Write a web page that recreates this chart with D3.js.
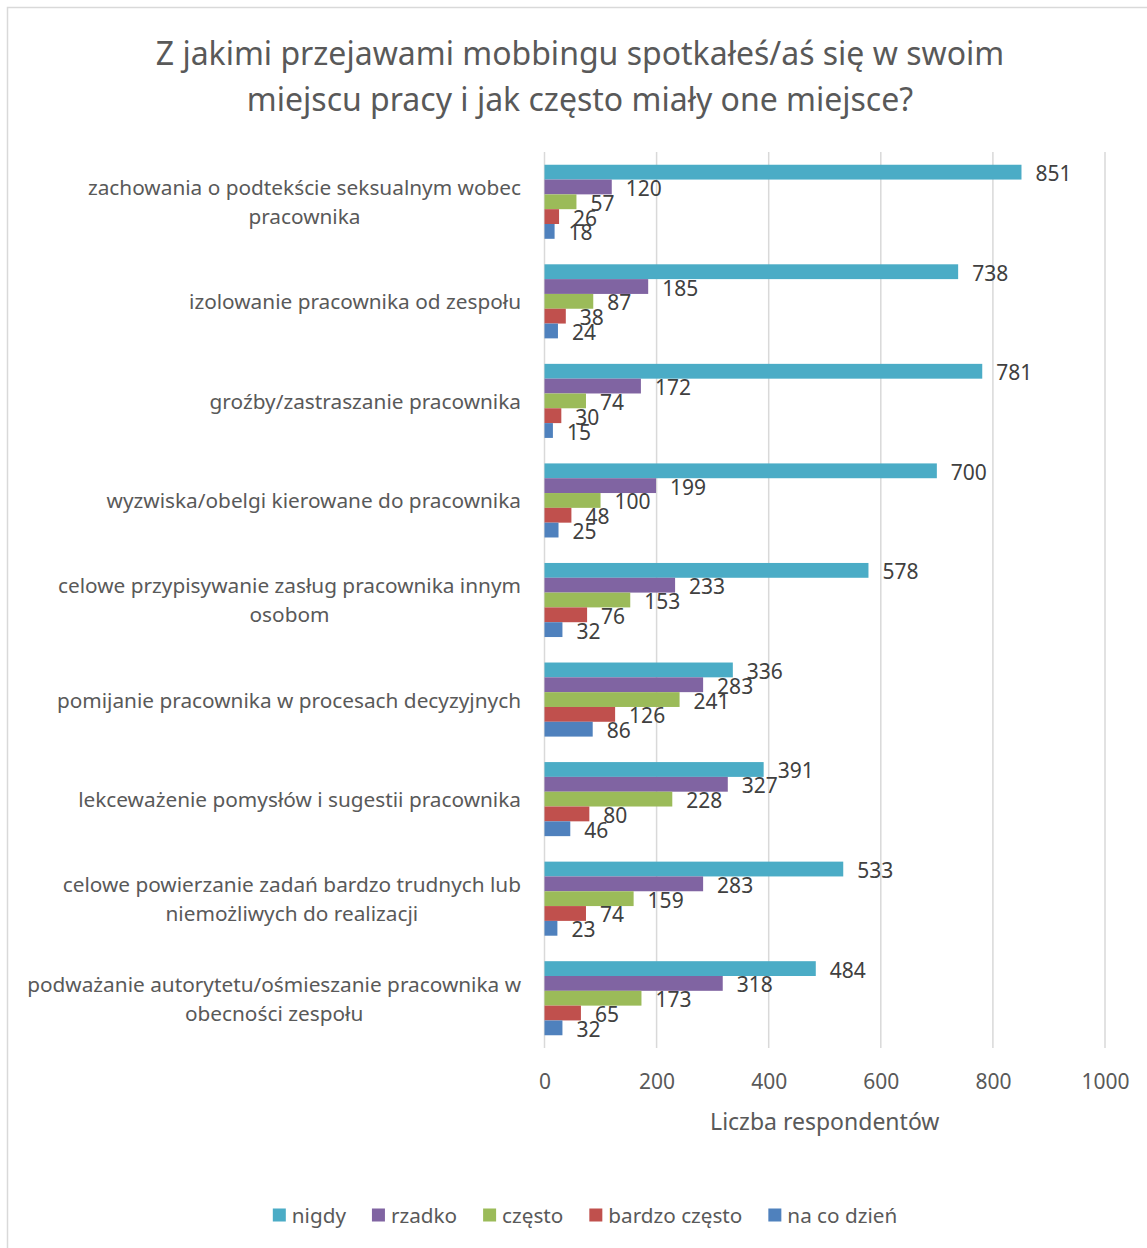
<!DOCTYPE html>
<html lang="pl">

<head>
  <meta charset="utf-8">
  <title>Mobbing</title>
  <script src="https://d3js.org/d3.v7.min.js" charset="utf-8"></script>
  <style type="text/css">
    body {
      margin: 0;
      background: #fff;
    }

    text {
      font-family: "Noto Sans", "Open Sans", sans-serif;
      fill: #595959;
    }
  </style>
</head>

<body>
  <script type="text/javascript">

    var categories = [
      "zachowania o podtekście seksualnym wobec\npracownika",
      "izolowanie pracownika od zespołu",
      "groźby/zastraszanie pracownika",
      "wyzwiska/obelgi kierowane do pracownika",
      "celowe przypisywanie zasług pracownika innym\nosobom",
      "pomijanie pracownika w procesach decyzyjnych",
      "lekceważenie pomysłów i sugestii pracownika",
      "celowe powierzanie zadań bardzo trudnych lub\nniemożliwych do realizacji",
      "podważanie autorytetu/ośmieszanie pracownika w\nobecności zespołu"
    ];
    var series = ["nigdy", "rzadko", "często", "bardzo często", "na co dzień"];
    var colors = ["#4BACC6", "#8064A2", "#9BBB59", "#C0504D", "#4F81BD"];

    // one value per category, in category order
    var nigdy = [851, 738, 781, 700, 578, 336, 391, 533, 484];
    var rzadko = [120, 185, 172, 199, 233, 283, 327, 283, 318];
    var czesto = [57, 87, 74, 100, 153, 241, 228, 159, 173];
    var bardzoCzesto = [26, 38, 30, 48, 76, 126, 80, 74, 65];
    var naCoDzien = [18, 24, 15, 25, 32, 86, 46, 23, 32];
    var xTicks = [0, 200, 400, 600, 800, 1000];

    var values = [nigdy, rzadko, czesto, bardzoCzesto, naCoDzien];

    var W = 1147, H = 1248;
    var svg = d3.select("body").append("svg")
      .attr("width", W)
      .attr("height", H);

    // chart border (cut off at right/bottom like the picture)
    svg.append("rect")
      .attr("x", 7.5).attr("y", 7.5)
      .attr("width", W + 20).attr("height", H + 20)
      .attr("fill", "none")
      .attr("stroke", "#d9d9d9")
      .attr("stroke-width", 1.5);

    // title
    svg.append("text")
      .attr("x", 580).attr("y", 52)
      .attr("text-anchor", "middle")
      .attr("dominant-baseline", "central")
      .attr("font-size", "32px")
      .text("Z jakimi przejawami mobbingu spotkałeś/aś się w swoim");
    svg.append("text")
      .attr("x", 580).attr("y", 98)
      .attr("text-anchor", "middle")
      .attr("dominant-baseline", "central")
      .attr("font-size", "32px")
      .text("miejscu pracy i jak często miały one miejsce?");

    var x = d3.scaleLinear().domain([0, 1000]).range([544.5, 1105]);
    var y0 = d3.scaleBand().domain(d3.range(categories.length)).range([152, 1048]);
    var step = y0.bandwidth();
    var y1 = d3.scaleBand().domain(series).range([step * 0.128, step * 0.872]);

    // gridlines
    svg.append("g")
      .selectAll("line")
      .data(xTicks)
      .enter()
      .append("line")
      .attr("x1", function (d) { return x(d); })
      .attr("x2", function (d) { return x(d); })
      .attr("y1", 152)
      .attr("y2", 1048)
      .attr("stroke", "#d9d9d9")
      .attr("stroke-width", 1.5);

    // tick labels via axis
    var xAxis = svg.append("g")
      .attr("transform", "translate(0,1048)")
      .call(d3.axisBottom(x).tickValues(xTicks).tickFormat(d3.format("d")).tickSize(0).tickPadding(0));
    xAxis.select(".domain").remove();
    xAxis.selectAll("text")
      .attr("y", 33)
      .attr("dy", null)
      .attr("dominant-baseline", "central")
      .attr("fill", "#595959")
      .attr("font-family", null)
      .attr("font-size", "21px");

    svg.append("text")
      .attr("x", (x(0) + x(1000)) / 2)
      .attr("y", 1121)
      .attr("text-anchor", "middle")
      .attr("dominant-baseline", "central")
      .attr("font-size", "23px")
      .text("Liczba respondentów");

    // bars
    var groups = svg.append("g")
      .selectAll("g")
      .data(categories)
      .enter()
      .append("g")
      .attr("transform", function (d, i) { return "translate(0," + y0(i) + ")"; });

    groups.each(function (cat, ci) {
      var g = d3.select(this);
      var rows = series.map(function (s, si) { return { s: s, si: si, v: values[si][ci] }; });

      g.selectAll("rect")
        .data(rows)
        .enter()
        .append("rect")
        .attr("x", x(0))
        .attr("y", function (d) { return y1(d.s); })
        .attr("width", function (d) { return x(d.v) - x(0); })
        .attr("height", y1.bandwidth())
        .attr("fill", function (d) { return colors[d.si]; });

      g.selectAll("text.val")
        .data(rows)
        .enter()
        .append("text")
        .attr("class", "val")
        .attr("x", function (d) { return x(d.v) + 14; })
        .attr("y", function (d) { return y1(d.s) + y1.bandwidth() / 2 + 1; })
        .attr("dominant-baseline", "central")
        .attr("font-size", "21px")
        .style("fill", "#404040")
        .text(function (d) { return d.v; });

      // category label
      var lines = cat.split("\n");
      var lh = 29;
      var cy = step / 2 - (lines.length - 1) * lh / 2;
      lines.forEach(function (ln, li) {
        g.append("text")
          .attr("x", 521)
          .attr("y", cy + li * lh)
          .attr("text-anchor", lines.length > 1 && li > 0 ? "middle" : "end")
          .attr("dominant-baseline", "central")
          .attr("font-size", "20.8px")
          .attr("class", "cat")
          .text(ln);
      });
    });

    // center wrapped second lines under their first line
    groups.each(function () {
      var t = d3.select(this).selectAll("text.cat").nodes();
      if (t.length > 1) {
        var w0 = t[0].getComputedTextLength();
        d3.select(t[1]).attr("x", 521 - w0 / 2);
      }
    });

    // legend
    var legend = svg.append("g");
    var lx = 0;
    series.forEach(function (s, i) {
      var item = legend.append("g").attr("transform", "translate(" + lx + ",0)");
      item.append("rect")
        .attr("x", 0).attr("y", -6.5)
        .attr("width", 13).attr("height", 13)
        .attr("fill", colors[i]);
      var t = item.append("text")
        .attr("x", 19)
        .attr("y", 0)
        .attr("dominant-baseline", "central")
        .attr("font-size", "20.7px")
        .text(s);
      lx += 19 + t.node().getComputedTextLength() + 26;
    });
    var lw = lx - 26;
    legend.attr("transform", "translate(" + (585 - lw / 2) + ",1215)");

  </script>
</body>

</html>
